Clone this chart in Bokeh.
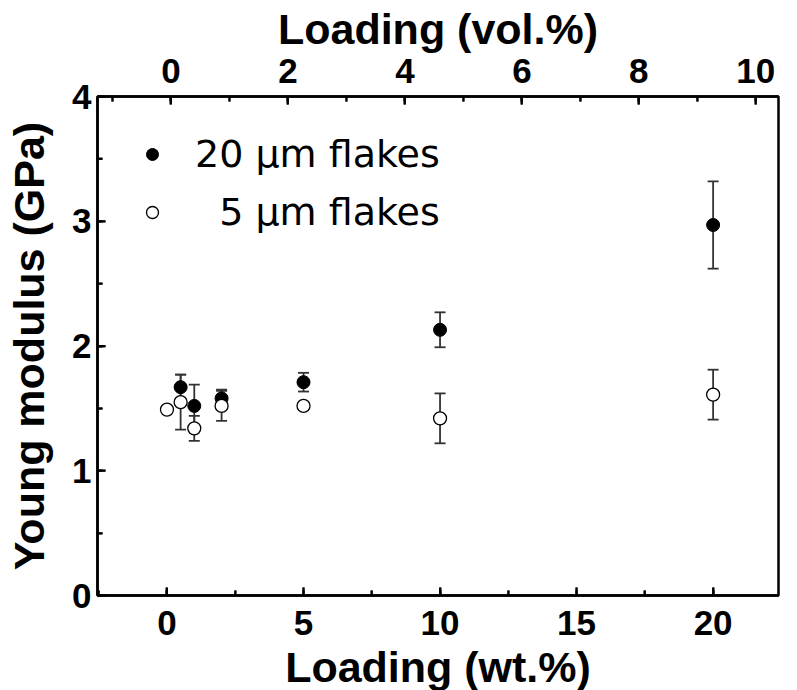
import math
from bokeh.plotting import figure
from bokeh.models import (Range1d, LinearAxis, SingleIntervalTicker, ColumnDataSource,
                          Whisker, TeeHead, Legend, LegendItem)
from bokeh.embed import file_html
from bokeh.resources import INLINE

# ---- data ----
wt_20 = [0.5, 1, 2, 5, 10, 20]
mod_20 = [1.67, 1.52, 1.58, 1.71, 2.13, 2.97]
err_20 = [0.10, 0.17, 0.07, 0.075, 0.14, 0.35]

wt_5 = [0, 0.5, 1, 2, 5, 10, 20]
mod_5 = [1.49, 1.55, 1.34, 1.52, 1.52, 1.42, 1.61]
err_5 = [0.02, 0.22, 0.10, 0.12, 0.0, 0.20, 0.20]

label_20 = "20 μm flakes"
label_5 = "\u20075 μm flakes"

# tick positions
wt_major = [0, 5, 10, 15, 20]
wt_minor = [-2.5, 2.5, 7.5, 12.5, 17.5]
vol_major = [0, 2, 4, 6, 8, 10]
vol_minor = [-1, 1, 3, 5, 7, 9]
gpa_major = [0, 1, 2, 3, 4]
gpa_minor = [0.5, 1.5, 2.5, 3.5]

FONT = "Liberation Sans"
BLACK = "#000000"
BAR = "#333333"

xr = Range1d(-2.544, 22.394)
yr = Range1d(0, 4)
vr = Range1d(-1.256, 10.388)

p = figure(frame_width=681, frame_height=499,
           min_border_left=97, min_border_right=12, min_border_top=96, min_border_bottom=94,
           x_range=xr, y_range=yr,
           output_backend="svg", toolbar_location=None, x_axis_location=None, y_axis_location=None)
p.extra_x_ranges = {"vol": vr}
p.xgrid.visible = False
p.ygrid.visible = False
p.outline_line_color = BLACK
p.outline_line_width = 2.5
p.background_fill_color = None
p.border_fill_color = "white"


def style(ax, standoff, title_standoff):
    ax.axis_line_color = BLACK
    ax.axis_line_width = 2.5
    ax.major_tick_in = 8
    ax.major_tick_out = 0
    ax.minor_tick_in = 5
    ax.minor_tick_out = 0
    ax.major_tick_line_width = 2
    ax.minor_tick_line_width = 2
    ax.major_tick_line_color = BLACK
    ax.minor_tick_line_color = BLACK
    ax.major_label_text_font = FONT
    ax.major_label_text_font_style = "bold"
    ax.major_label_text_font_size = "35px"
    ax.major_label_text_color = BLACK
    ax.major_label_standoff = standoff
    ax.axis_label_text_font = FONT
    ax.axis_label_text_font_style = "bold"
    ax.axis_label_text_font_size = "43px"
    ax.axis_label_text_color = BLACK
    ax.axis_label_standoff = title_standoff


xb = LinearAxis(ticker=SingleIntervalTicker(interval=5, num_minor_ticks=2),
                axis_label="Loading (wt.%)")
style(xb, 15, 5)
p.add_layout(xb, "below")

xt = LinearAxis(x_range_name="vol", ticker=SingleIntervalTicker(interval=2, num_minor_ticks=2),
                axis_label="Loading (vol.%)")
style(xt, 14, 3)
p.add_layout(xt, "above")

yl = LinearAxis(ticker=SingleIntervalTicker(interval=1, num_minor_ticks=2),
                axis_label="Young modulus (GPa)")
style(yl, 6, 16)
yl.major_label_orientation = "horizontal"
p.add_layout(yl, "left")

# inward tick marks (half of each dash is clipped away by the frame)
tick_kw = dict(marker="dash", line_color=BLACK, line_width=2)
p.scatter(x=wt_major, y=[yr.start] * len(wt_major), size=16, angle=math.pi / 2, **tick_kw)
p.scatter(x=wt_minor, y=[yr.start] * len(wt_minor), size=10, angle=math.pi / 2, **tick_kw)
p.scatter(x=vol_major, y=[yr.end] * len(vol_major), size=16, angle=math.pi / 2,
          x_range_name="vol", **tick_kw)
p.scatter(x=vol_minor, y=[yr.end] * len(vol_minor), size=10, angle=math.pi / 2,
          x_range_name="vol", **tick_kw)
p.scatter(x=[xr.start] * len(gpa_major), y=gpa_major, size=16, **tick_kw)
p.scatter(x=[xr.start] * len(gpa_minor), y=gpa_minor, size=10, **tick_kw)

# ---- data sources ----
s20 = ColumnDataSource(dict(x=wt_20, y=mod_20,
                            lo=[m - e for m, e in zip(mod_20, err_20)],
                            hi=[m + e for m, e in zip(mod_20, err_20)]))
s5 = ColumnDataSource(dict(x=wt_5, y=mod_5,
                           lo=[m - e for m, e in zip(mod_5, err_5)],
                           hi=[m + e for m, e in zip(mod_5, err_5)]))

for src in (s20, s5):
    w = Whisker(source=src, base="x", lower="lo", upper="hi",
                line_color=BAR, line_width=1.8,
                upper_head=TeeHead(size=11, line_color=BAR, line_width=1.8),
                lower_head=TeeHead(size=11, line_color=BAR, line_width=1.8))
    p.add_layout(w)

r20 = p.scatter("x", "y", source=s20, size=13, marker="circle",
                fill_color=BLACK, line_color=BLACK, line_width=1)
r5 = p.scatter("x", "y", source=s5, size=13, marker="circle",
               fill_color="white", line_color=BLACK, line_width=1.3)

legend = Legend(items=[LegendItem(label=label_20, renderers=[r20]),
                       LegendItem(label=label_5, renderers=[r5])],
                location=(40, 361), orientation="vertical",
                background_fill_alpha=0, border_line_alpha=0,
                padding=0, margin=0, spacing=14,
                glyph_width=30, glyph_height=30, label_standoff=28,
                label_text_font="DejaVu Sans", label_text_font_size="38px",
                label_text_color=BLACK)
p.add_layout(legend)

open("out.html", "w").write(file_html(p, INLINE))
